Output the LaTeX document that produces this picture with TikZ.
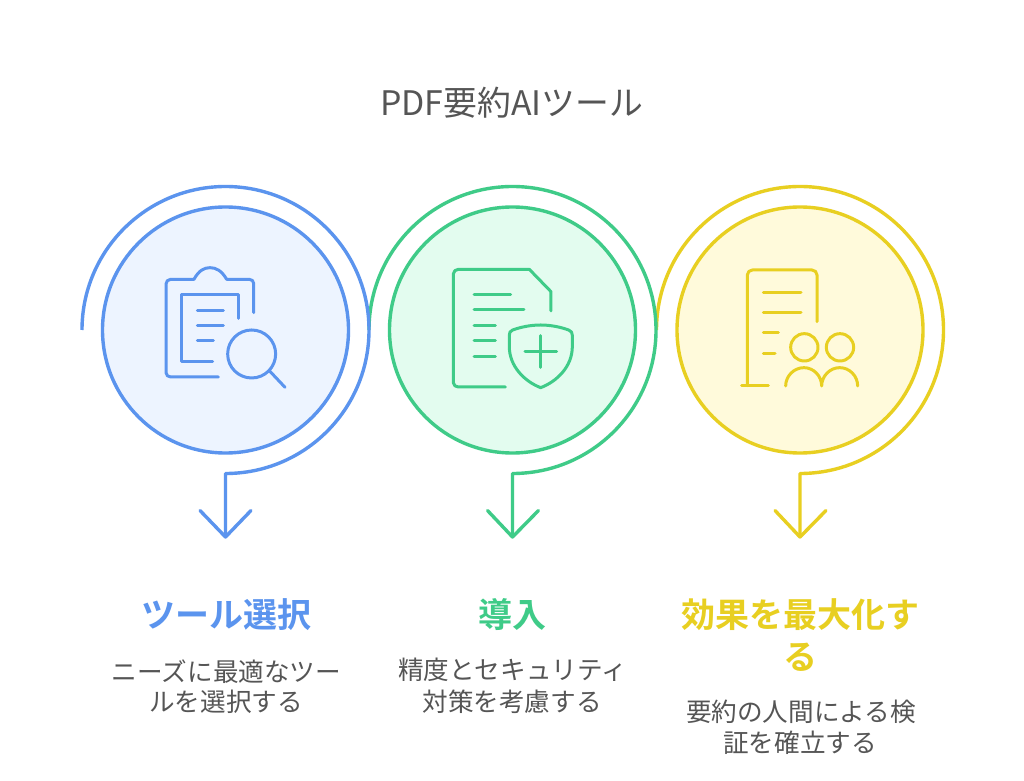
\documentclass[tikz,border=0pt]{standalone}
\usepackage{fontspec}
\setmainfont{Noto Sans CJK JP}
\newfontfamily\jpbold{Noto Sans CJK JP Bold}
\definecolor{bluec}{HTML}{5B94EE}
\definecolor{bluef}{HTML}{EDF4FF}
\definecolor{greenc}{HTML}{3FCB88}
\definecolor{greenf}{HTML}{E3FCEF}
\definecolor{yellowc}{HTML}{E8CF21}
\definecolor{yellowf}{HTML}{FFFADB}
\definecolor{txt}{HTML}{555555}
\begin{document}
\begin{tikzpicture}[x=1pt,y=1pt,line join=round,line cap=round,
  disc/.style={circle,draw=#1c,fill=#1f,line width=3.4pt,minimum size=246pt,inner sep=0pt},
  ring/.style={draw=#1c,line width=3.4pt,line cap=butt},
  chev/.style={draw=#1c,line width=3.4pt},
  icon/.style={draw=#1c,line width=3pt},
  head/.style={text=#1c,font=\jpbold\fontsize{34}{34}\selectfont,anchor=center,inner sep=0pt},
  desc/.style={text=txt,font=\fontsize{25.6}{25.6}\selectfont,anchor=center,inner sep=0pt},
  ttl/.style={text=txt,font=\fontsize{33.8}{33.8}\selectfont,anchor=center,inner sep=0pt}]
\useasboundingbox (0,0) rectangle (1024,780);
\fill[white] (0,0) rectangle (1024,780);
\node[ttl] (title) at (511.5,677) {PDF要約AIツール};

% --- yellow
\coordinate (s3) at (656.5,450);
\coordinate (t3) at (800,243);
\draw[ring=yellow] (s3) arc[start angle=180,end angle=-90,radius=143.5] -- (t3);
\draw[chev=yellow] (775,269.5) -- (t3) -- (826,269.5);
\node[disc=yellow] (c3) at (800,450) {};
% --- green
\coordinate (s2) at (369,450);
\coordinate (t2) at (512.5,243);
\draw[ring=green] (s2) arc[start angle=180,end angle=-90,radius=143.5] -- (t2);
\draw[chev=green] (487.5,269.5) -- (t2) -- (538.5,269.5);
\node[disc=green] (c2) at (512.5,450) {};
% --- blue
\coordinate (s1) at (82,450);
\coordinate (t1) at (225.5,243);
\draw[ring=blue] (s1) arc[start angle=180,end angle=-90,radius=143.5] -- (t1);
\draw[chev=blue] (200,269.5) -- (t1) -- (251,269.5);
\node[disc=blue] (c1) at (225.5,450) {};

% icon 1
\begin{scope}[shift={(150,530)},x=0.3333pt,y=-0.3333pt]
\draw[icon=blue] (311,188) -- (311,100) to[out=90,in=0] (298,88) -- (230,88)
  .. controls (215,62) and (198,53) .. (180,53) .. controls (162,53) and (146,62) .. (132,88)
  -- (62,88) to[out=180,in=90] (48,102) -- (48,368) to[out=-90,in=180] (62,381) -- (205,381);
\draw[icon=blue] (265,205) -- (265,133) -- (96,133) -- (96,335) -- (188,335);
\draw[icon=blue] (142,181) -- (220,181) (142,227) -- (220,227) (142,273) -- (190,273);
\draw[icon=blue] (305,312) circle[radius=72];
\draw[icon=blue] (358,362) -- (405,412);
\end{scope}

% icon 2
\begin{scope}[shift={(430,530)},x=0.3333pt,y=-0.3333pt]
\draw[icon=green] (363,183) -- (363,125) -- (298,58) -- (85,58) to[out=180,in=90] (70,72) -- (70,398) to[out=-90,in=180] (85,411) -- (226,411);
\draw[icon=green] (132,134) -- (242,134) (132,180) -- (282,180) (132,227) -- (196,227) (132,273) -- (196,273) (132,319) -- (196,319);
\draw[icon=green] (332,225) .. controls (300,225) and (270,232) .. (248,240)
  .. controls (240,243) and (238,248) .. (238,256) -- (238,290)
  .. controls (238,350) and (285,395) .. (332,413)
  .. controls (380,395) and (427,350) .. (427,290) -- (427,256)
  .. controls (427,248) and (424,243) .. (416,240)
  .. controls (394,232) and (364,225) .. (332,225) -- cycle;
\draw[icon=green] (332,257) -- (332,352) (285,304) -- (380,304);
\end{scope}

% icon 3
\begin{scope}[shift={(720,530)},x=0.3333pt,y=-0.3333pt]
\draw[icon=yellow] (291,215) -- (291,75) to[out=90,in=0] (276,60) -- (97,60) to[out=180,in=90] (82,75) -- (82,407);
\draw[icon=yellow] (65,407) -- (145,407);
\draw[icon=yellow] (130,127) -- (243,127) (130,188) -- (243,188) (130,249) -- (175,249) (130,311) -- (165,311);
\draw[icon=yellow] (253,292) circle[radius=41] (360,292) circle[radius=41];
\draw[icon=yellow] (197,408) .. controls (197,378) and (222,353) .. (252,353) .. controls (281,353) and (305,378) .. (305,408)
  .. controls (305,378) and (330,353) .. (359,353) .. controls (389,353) and (413,378) .. (413,408);
\end{scope}

% texts
\node[head=blue] (h1) at (226,165) {ツール選択};
\node[desc] (d1a) at (226.5,108) {ニーズに最適なツー};
\node[desc] (d1b) at (226,78) {ルを選択する};
\node[head=green] (h2) at (512.5,165) {導入};
\node[desc] (d2a) at (512.5,110) {精度とセキュリティ};
\node[desc] (d2b) at (512,78) {対策を考慮する};
\node[head=yellow] (h3a) at (800,165) {効果を最大化す};
\node[head=yellow] (h3b) at (800,123) {る};
\node[desc] (d3a) at (801,68) {要約の人間による検};
\node[desc] (d3b) at (800,37) {証を確立する};
\end{tikzpicture}
\end{document}
